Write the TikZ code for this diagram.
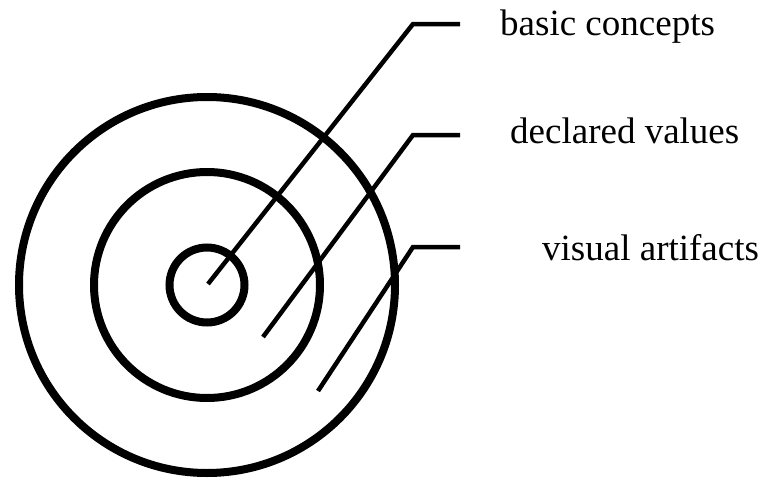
\documentclass[tikz,border=0pt]{standalone}
\usepackage{fontspec}
\setmainfont{Liberation Serif}
\begin{document}
\begin{tikzpicture}[x=1pt,y=-1pt,
  ring/.style={line width=8pt,draw=black},
  leader/.style={line width=4.5pt,draw=black,line join=miter,line cap=butt},
  lbl/.style={anchor=base west,inner sep=0pt,font=\fontsize{37}{44}\selectfont}]
\useasboundingbox (0,0) rectangle (761,479);
\coordinate (c) at (207,285);
\draw[ring] (c) circle[radius=188];
\draw[ring] (c) circle[radius=113];
\draw[ring] (c) circle[radius=37.5];
\coordinate (s1) at (208,284);
\coordinate (k1) at (413,24);
\coordinate (e1) at (460,24);
\coordinate (s2) at (263,337);
\coordinate (k2) at (413,135);
\coordinate (e2) at (460,135);
\coordinate (s3) at (318,391);
\coordinate (k3) at (413,247);
\coordinate (e3) at (460,247);
\draw[leader] (s1) -- (k1) -- (e1);
\draw[leader] (s2) -- (k2) -- (e2);
\draw[leader] (s3) -- (k3) -- (e3);
\node[lbl] (t1) at (500,35) {basic concepts};
\node[lbl] (t2) at (510,143) {declared values};
\node[lbl] (t3) at (542,260) {visual artifacts};
\end{tikzpicture}
\end{document}
